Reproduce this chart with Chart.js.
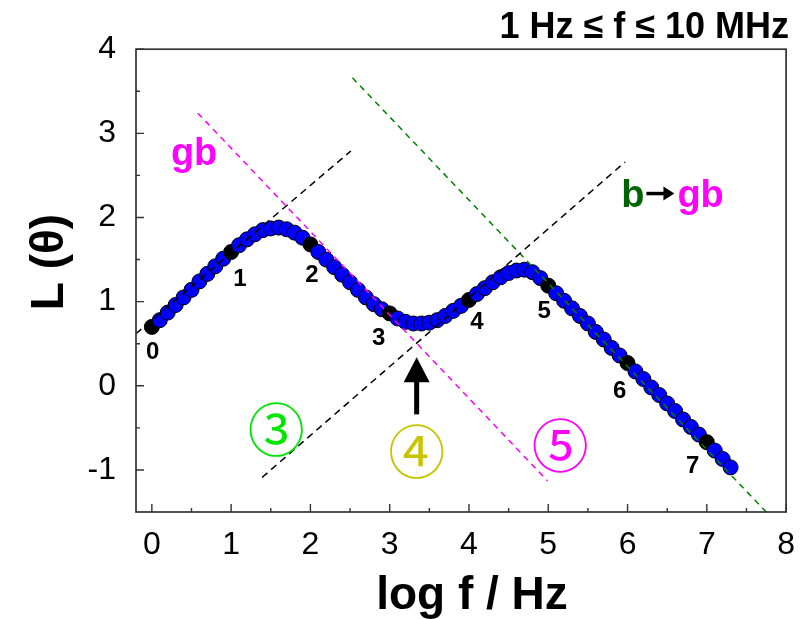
<!DOCTYPE html>
<html><head><meta charset="utf-8">
<script src="https://cdn.jsdelivr.net/npm/chart.js@4/dist/chart.umd.min.js"></script>
<style>html,body{margin:0;padding:0;background:#fff;}#wrap{width:801px;height:619px;}</style>
</head><body><div id="wrap"><canvas id="c" width="801" height="619"></canvas></div>
<script>
// ---- data ----
const logF = [0.0,0.1,0.2,0.3,0.4,0.5,0.6,0.7,0.8,0.9,1.0,1.1,1.2,1.3,1.4,1.5,1.6,1.7,1.8,1.9,
  2.0,2.1,2.2,2.3,2.4,2.5,2.6,2.7,2.8,2.9,3.0,3.1,3.2,3.3,3.4,3.5,3.6,3.7,3.8,3.9,
  4.0,4.1,4.2,4.3,4.4,4.5,4.6,4.7,4.8,4.9,5.0,5.1,5.2,5.3,5.4,5.5,5.6,5.7,5.8,5.9,
  6.0,6.1,6.2,6.3,6.4,6.5,6.6,6.7,6.8,6.9,7.0,7.1,7.2,7.3];
const L = [0.70,0.78,0.87,0.96,1.05,1.14,1.24,1.33,1.42,1.51,1.59,1.67,1.74,1.80,1.85,1.87,1.88,1.86,1.82,1.76,
  1.68,1.59,1.50,1.41,1.32,1.23,1.14,1.05,0.97,0.91,0.86,0.80,0.76,0.74,0.74,0.75,0.78,0.83,0.89,0.95,
  1.02,1.09,1.16,1.23,1.29,1.34,1.37,1.38,1.35,1.28,1.19,1.10,1.01,0.92,0.83,0.74,0.64,0.55,0.45,0.36,
  0.27,0.17,0.08,-0.02,-0.11,-0.21,-0.30,-0.40,-0.49,-0.58,-0.67,-0.77,-0.87,-0.97];
const markedDecades = [0,1,2,3,4,5,6,7];
const decadeLabels = ['0','1','2','3','4','5','6','7'];
const xTicks = [0,1,2,3,4,5,6,7,8];
const yTicks = [-1,0,1,2,3,4];
// asymptote lines (endpoints)
const asym1X = [-0.2, 2.51], asym1Y = [0.62, 2.79];
const asym2X = [1.39, 5.97], asym2Y = [-1.09, 2.66];
const gbLineX = [0.58, 4.99], gbLineY = [3.24, -1.13];
const bLineX = [2.53, 7.79], bLineY = [3.66, -1.54];

// ---- annotations (in data units) ----
const decadeLabelX = [0.01,1.11,2.02,2.86,4.10,4.95,5.90,6.82];
const decadeLabelY = [0.40,1.27,1.31,0.56,0.75,0.89,-0.07,-0.96];
const circled = [
  {t:'③', x:1.57, y:-0.49, c:'#00e600'},
  {t:'④', x:3.34, y:-0.76, c:'#c8c400'},
  {t:'⑤', x:5.15, y:-0.69, c:'#ff00ff'}
];
const arrowAnn = {x:3.34, tip:0.34, tail:-0.34};

const pts = logF.map((x,i)=>({x:x, y:L[i]}));
const isMarked = x => markedDecades.some(d => Math.abs(d-x) < 1e-6);
const line = (xs,ys) => xs.map((x,i)=>({x:x,y:ys[i]}));

const FONT = 'Liberation Sans, Arial, sans-serif';

const decor = {
  id:'decor',
  afterDraw(chart){
    const {ctx, chartArea:a, scales:{x:xs, y:ys}} = chart;
    const px = v => xs.getPixelForValue(v), py = v => ys.getPixelForValue(v);
    ctx.save();
    // frame
    ctx.strokeStyle = '#333'; ctx.lineWidth = 1.7;
    ctx.strokeRect(a.left, a.top, a.right-a.left, a.bottom-a.top);
    // inward ticks
    ctx.lineWidth = 1.4;
    ctx.beginPath();
    xTicks.forEach(v=>{ const X=px(v); ctx.moveTo(X,a.bottom); ctx.lineTo(X,a.bottom-8); });
    for(let v=0.5; v<8; v+=1){ const X=px(v); ctx.moveTo(X,a.bottom); ctx.lineTo(X,a.bottom-4); }
    yTicks.forEach(v=>{ const Y=py(v); ctx.moveTo(a.left,Y); ctx.lineTo(a.left+8,Y); });
    for(let v=-0.5; v<4; v+=1){ const Y=py(v); ctx.moveTo(a.left,Y); ctx.lineTo(a.left+4,Y); }
    ctx.stroke();

    // decade labels
    ctx.fillStyle = '#000'; ctx.textAlign='center'; ctx.textBaseline='middle';
    ctx.font = 'bold 24px ' + FONT;
    decadeLabels.forEach((t,i)=> ctx.fillText(t, px(decadeLabelX[i]), py(decadeLabelY[i])));

    // circled region numbers
    ctx.font = '57px "Noto Sans CJK JP"';
    circled.forEach(c=>{ ctx.fillStyle=c.c; ctx.fillText(c.t, px(c.x), py(c.y)+2); });

    // gb label
    ctx.textAlign='left'; ctx.textBaseline='alphabetic';
    ctx.font = 'bold 38px ' + FONT;
    ctx.fillStyle = '#ff00ff';
    ctx.fillText('gb', px(0.24), py(2.62));
    // b -> gb
    let X = px(5.92), Yb = py(2.13);
    ctx.fillStyle = '#006400'; ctx.fillText('b', X, Yb);
    X += ctx.measureText('b').width + 1;
    const ay = Yb - 13;
    ctx.strokeStyle='#000'; ctx.lineWidth=3.5;
    ctx.beginPath(); ctx.moveTo(X+1, ay); ctx.lineTo(X+20, ay); ctx.stroke();
    ctx.fillStyle='#000'; ctx.beginPath(); ctx.moveTo(X+29, ay); ctx.lineTo(X+18, ay-7); ctx.lineTo(X+18, ay+7); ctx.closePath(); ctx.fill();
    X += 32;
    ctx.fillStyle = '#ff00ff'; ctx.fillText('gb', X, Yb);

    // vertical arrow
    const ax = px(arrowAnn.x), tipY = py(arrowAnn.tip), tailY = py(arrowAnn.tail);
    ctx.fillStyle='#000';
    ctx.fillRect(ax-2.5, tipY+22, 5, tailY-(tipY+22));
    ctx.beginPath(); ctx.moveTo(ax, tipY); ctx.lineTo(ax-13, tipY+25); ctx.lineTo(ax+13, tipY+25); ctx.closePath(); ctx.fill();

    // axis titles
    ctx.fillStyle='#000'; ctx.textAlign='center'; ctx.textBaseline='middle';
    ctx.font = 'bold 46px ' + FONT;
    ctx.fillText('log f / Hz', 472, 596);
    ctx.save();
    ctx.translate(50, 262); ctx.rotate(-Math.PI/2);
    ctx.font = 'bold 46px ' + FONT;
    ctx.fillText('L (θ)', 0, 0);
    ctx.restore();
    ctx.restore();
  }
};

new Chart(document.getElementById('c'), {
  type:'scatter',
  data:{ datasets:[
    {label:'asym1', data:line(asym1X,asym1Y), showLine:true, pointRadius:0, borderColor:'#000', borderWidth:1.5, borderDash:[7,5], order:0},
    {label:'asym2', data:line(asym2X,asym2Y), showLine:true, pointRadius:0, borderColor:'#000', borderWidth:1.5, borderDash:[7,5], order:0},
    {label:'gb', data:line(gbLineX,gbLineY), showLine:true, pointRadius:0, borderColor:'#ff00ff', borderWidth:1.5, borderDash:[6,5], order:0},
    {label:'b', data:line(bLineX,bLineY), showLine:true, pointRadius:0, borderColor:'#008000', borderWidth:1.5, borderDash:[6,5], order:0, clip:false},
    {label:'L', data:pts, showLine:false, pointRadius:7.5, pointHoverRadius:7.5,
      pointBackgroundColor: logF.map(x=> isMarked(x) ? '#000' : '#0000ff'),
      pointBorderColor:'#000', pointBorderWidth:1, order:1}
  ]},
  options:{
    responsive:false, animation:false, devicePixelRatio:1,
    layout:{padding:{left:0, right:12, top:0, bottom:0}},
    plugins:{
      legend:{display:false}, tooltip:{enabled:false},
      title:{display:true, text:'1 Hz \u2264 f \u2264 10 MHz', align:'end', color:'#000',
        font:{family:FONT, size:36, weight:'bold'}, padding:{top:6, bottom:0}}
    },
    scales:{
      x:{type:'linear', min:-0.2, max:8,
        grid:{display:false}, border:{display:false},
        afterBuildTicks: s => { s.ticks = xTicks.map(v=>({value:v})); },
        afterFit: s => { s.height = 107; },
        ticks:{color:'#000', font:{family:FONT, size:32}, padding:6, maxRotation:0, autoSkip:false}
      },
      y:{type:'linear', min:-1.5, max:4,
        grid:{display:false}, border:{display:false},
        afterBuildTicks: s => { s.ticks = yTicks.map(v=>({value:v})); },
        afterFit: s => { s.width = 136; },
        ticks:{color:'#000', font:{family:FONT, size:32}, padding:12, autoSkip:false}
      }
    }
  },
  plugins:[decor]
});
</script></body></html>
